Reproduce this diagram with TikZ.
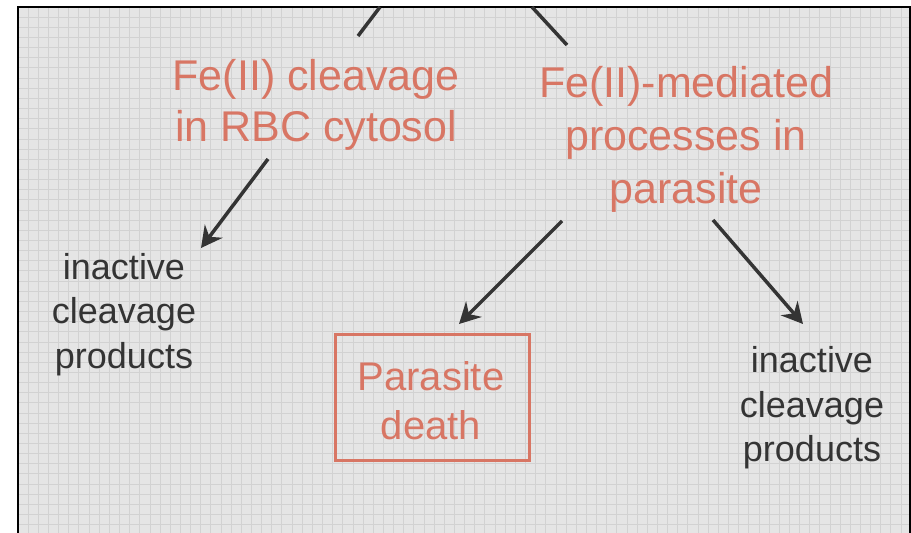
\documentclass[tikz,border=0pt]{standalone}
\usepackage{fontspec}
\setmainfont{Liberation Sans}
\usetikzlibrary{arrows.meta}
\definecolor{panelfill}{RGB}{229,229,229}
\definecolor{gridline}{RGB}{210,210,210}
\definecolor{salmon}{RGB}{216,118,100}
\definecolor{inkgray}{RGB}{52,52,52}
\tikzset{
  hotlabel/.style={text=salmon, align=center, inner sep=0pt,
    font=\fontsize{43}{51}\selectfont},
  plainlabel/.style={text=inkgray, align=center, inner sep=0pt,
    font=\fontsize{36}{44.5}\selectfont},
  outcomebox/.style={draw=salmon, line width=3pt, text=salmon, align=center,
    minimum width=194pt, minimum height=126pt, inner sep=0pt,
    font=\fontsize{40}{49}\selectfont},
  flow/.style={draw=inkgray, line width=3.5pt,
    -{Stealth[length=21pt,width=22pt,inset=7pt]}},
  feed/.style={draw=inkgray, line width=3.5pt}
}
\begin{document}
\begin{tikzpicture}[x=1pt,y=-1pt]
  \useasboundingbox (0,0) rectangle (911,533);
  % gridded panel
  \fill[panelfill] (18,7) rectangle (911,533);
  \foreach \gx in {28.15,38.3,...,910}
    \draw[gridline, line width=0.9pt] (\gx,7) -- (\gx,533);
  \foreach \gy in {17.15,27.3,...,533}
    \draw[gridline, line width=0.9pt] (18,\gy) -- (911,\gy);
  \draw[black, line width=2.2pt] (18,533) -- (18,7) -- (910,7) -- (910,533);

  % labels
  \node[hotlabel] (rbc) at (316,105) {Fe(II) cleavage\\in RBC cytosol};
  \node[hotlabel, font=\fontsize{43}{53}\selectfont] (par) at (686,139)
    {Fe(II)-mediated\\processes in\\parasite};
  \node[plainlabel] (inactL) at (124,314.5) {inactive\\cleavage\\products};
  \node[plainlabel] (inactR) at (812,408) {inactive\\cleavage\\products};
  \node[outcomebox] (death) at (432,397.5) {};
  \node[text=salmon, align=center, inner sep=0pt,
    font=\fontsize{40}{49}\selectfont] (deathtext) at (431,401) {Parasite\\death};

  % connector ends
  \coordinate (topL) at (380,7);
  \coordinate (topR) at (532,7);
  \coordinate (rbcIn) at (358,36);
  \coordinate (parIn) at (567,45);
  \coordinate (rbcOut) at (268,159);
  \coordinate (inactLIn) at (201,248);
  \coordinate (parOutL) at (562,221);
  \coordinate (deathIn) at (459,324);
  \coordinate (parOutR) at (713,220);
  \coordinate (inactRIn) at (803,324);

  % connectors
  \draw[feed] (topL) -- (rbcIn);
  \draw[feed] (topR) -- (parIn);
  \draw[flow] (rbcOut) -- (inactLIn);
  \draw[flow] (parOutL) -- (deathIn);
  \draw[flow] (parOutR) -- (inactRIn);
\end{tikzpicture}
\end{document}
